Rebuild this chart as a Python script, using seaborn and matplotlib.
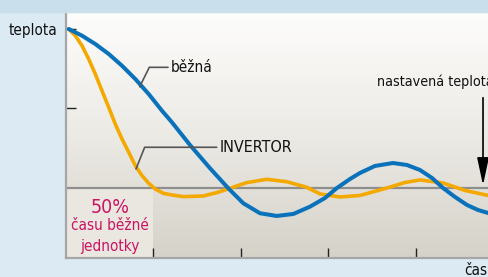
import numpy as np
import pandas as pd
import seaborn as sns
import matplotlib.pyplot as plt
from matplotlib.colors import LinearSegmentedColormap
from matplotlib.patches import Rectangle

# values (time units, temperature relative to set point)
inv_t = [0.031, 0.106, 0.183, 0.259, 0.335, 0.411, 0.488, 0.563, 0.640, 0.717,
         0.792, 0.869, 0.945, 1.021, 1.112, 1.211, 1.341, 1.569, 1.722, 1.874,
         2.065, 2.294, 2.522, 2.751, 2.903, 3.131, 3.360, 3.669, 3.874, 4.046,
         4.309, 4.560, 4.823]
inv_temp = [2.000, 1.916, 1.790, 1.623, 1.434, 1.224, 1.015, 0.805, 0.616, 0.449,
            0.281, 0.155, 0.059, -0.013, -0.067, -0.088, -0.109, -0.101, -0.059, -0.004,
            0.067, 0.109, 0.079, 0.009, -0.075, -0.113, -0.094, 0.000, 0.069, 0.101,
            0.063, -0.031, -0.094]
std_t = [0.031, 0.183, 0.335, 0.488, 0.640, 0.792, 0.945, 1.097, 1.211, 1.417,
         1.646, 1.855, 2.026, 2.217, 2.408, 2.598, 2.789, 2.960, 3.097, 3.246,
         3.360, 3.531, 3.737, 3.897, 4.046, 4.183, 4.309, 4.446, 4.583, 4.709,
         4.823]
std_temp = [2.000, 1.916, 1.811, 1.686, 1.538, 1.371, 1.182, 0.972, 0.826, 0.541,
            0.248, -0.004, -0.192, -0.318, -0.352, -0.327, -0.235, -0.126, 0.000, 0.113,
            0.189, 0.277, 0.314, 0.289, 0.226, 0.126, 0.000, -0.113, -0.214, -0.277,
            -0.314]
x_ticks = [1, 2, 3, 4]
y_ticks = [1, 2]
y_labels = ['', 'teplota']
set_temp = 0

sns.set_theme(style='white')
plt.rcParams['font.family'] = ['DejaVu Sans']
plt.rcParams['font.stretch'] = 'condensed'

fig = plt.figure(figsize=(4.88, 2.77), dpi=100, facecolor='#dbeaf3')
fig.patches.append(Rectangle((0, 265 / 277), 1, 12 / 277, transform=fig.transFigure,
                             color='#cadfec', zorder=0))
ax = fig.add_axes([66 / 488, 19 / 277, 1 - 66 / 488, 246 / 277])
xmin, xmax, ymin, ymax = 0, 4.823, -0.881, 2.214

# background gradient of the plot area
cmap = LinearSegmentedColormap.from_list('bg', ['#fdfdfc', '#eceae5', '#d5d2c9'])
grad = np.linspace(0, 1, 256).reshape(-1, 1)
ax.imshow(grad, extent=[xmin, xmax, ymin, ymax], cmap=cmap, aspect='auto',
          origin='upper', zorder=0)
ax.fill_between([0, 1], ymin, set_temp, color='#e9e7e0', zorder=0.5, lw=0)
ax.axhline(set_temp, color='#8e8e8e', lw=1.6, zorder=1)

sns.lineplot(x=std_t, y=std_temp, color='#0a72bb', lw=2.9, sort=False,
             estimator=None, ax=ax, zorder=3, solid_joinstyle='round')
sns.lineplot(x=inv_t, y=inv_temp, color='#f4a900', lw=2.6, sort=False,
             estimator=None, ax=ax, zorder=2, solid_joinstyle='round')

ax.set_xlim(xmin, xmax)
ax.set_ylim(ymin, ymax)
ax.set_xticks(x_ticks)
ax.set_xticklabels([])
ax.set_yticks(y_ticks)
ax.set_yticklabels(y_labels, fontsize=11, color='#111111')
ax.tick_params(axis='both', direction='in', length=7.5, width=1, color='#222222', pad=6)
ax.tick_params(axis='x', bottom=True)
ax.tick_params(axis='y', left=True)
for side in ['left', 'bottom']:
    ax.spines[side].set_color('#a6a6a6')
    ax.spines[side].set_linewidth(1.6)
ax.spines['top'].set_color('#b8b8b8')
ax.spines['top'].set_linewidth(0.8)
ax.spines['right'].set_visible(False)

# leader lines and labels
lead = dict(color='#555555', lw=1.2, zorder=4)
ax.plot([0.842, 0.952, 1.166], [1.274, 1.518, 1.518], **lead)
ax.text(1.20, 1.518, 'běžná', fontsize=11, va='center', color='#111111')
ax.plot([0.800, 0.899, 1.722], [0.239, 0.512, 0.512], **lead)
ax.text(1.76, 0.512, 'INVERTOR', fontsize=11.5, va='center', color='#111111')

ax.text(3.554, 1.333, 'nastavená teplota', fontsize=10.3, va='center',
        color='#111111', clip_on=False)
ax.annotate('', xy=(4.766, set_temp), xytext=(4.766, 1.17),
            arrowprops=dict(arrowstyle='-|>,head_width=0.3,head_length=1.4',
                            color='#000000', lw=1.2), zorder=5)

ax.text(0.5, -0.24, '50%', fontsize=14, color='#cc1462', ha='center', va='center')
ax.text(0.5, -0.47, 'času běžné', fontsize=11, color='#cc1462', ha='center', va='center')
ax.text(0.5, -0.74, 'jednotky', fontsize=11, color='#cc1462', ha='center', va='center')

ax.text(4.55, -0.94, 'čas', fontsize=11, color='#111111', va='top', clip_on=False)

fig.savefig('out.png', dpi=100, facecolor=fig.get_facecolor())
